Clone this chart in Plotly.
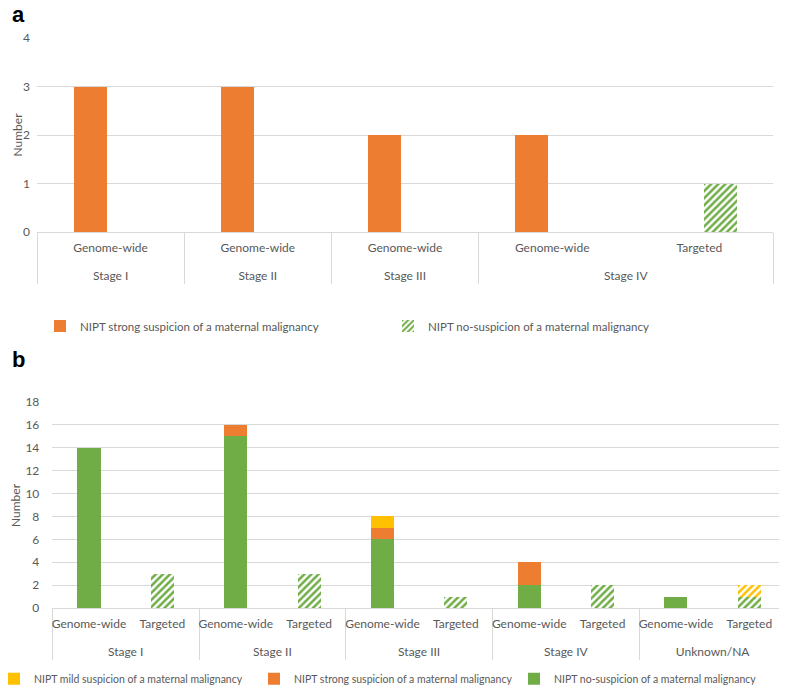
import plotly.graph_objects as go

# ---- panel a data ----
a_stage = ["Stage I", "Stage II", "Stage III", "Stage IV", "Stage IV"]
a_method = ["Genome-wide", "Genome-wide", "Genome-wide", "Genome-wide", "Targeted"]
a_strong = [3, 3, 2, 2, None]
a_nosusp = [None, None, None, None, 1]

# ---- panel b data ----
b_stage = ["Stage I", "Stage I", "Stage II", "Stage II", "Stage III", "Stage III",
           "Stage IV", "Stage IV", "Unknown/NA", "Unknown/NA"]
b_method = ["Genome-wide", "Targeted"] * 5
b_nosusp = [14, 3, 15, 3, 6, 1, 2, 2, 1, 1]
b_strong = [None, None, 1, None, 1, None, 2, None, None, None]
b_mild = [None, None, None, None, 1, None, None, None, None, 1]

ORANGE = "#ed7d31"
GREEN = "#70ad47"
YELLOW = "#ffc000"
GRID = "#d9d9d9"
TXT = "#595959"
FONT = "Lato"

# page has an 8px body margin, so the figure is a bit smaller than the window
OFF = 8
W, H = 787 - OFF, 692 - OFF

def px_x(p):
    return (p - OFF) / W

def px_y(p):
    return 1 - (p - OFF) / H

# outer (stage) labels sit one line lower, like the Excel original
a_x = [["<br>" + s for s in a_stage], a_method]
b_x = [["<br>" + s for s in b_stage], b_method]

# hatched for targeted bars
b_pat = ["" if m == "Genome-wide" else "/" for m in b_method]

def hatch(col, shape):
    return dict(shape=shape, fgcolor=col, bgcolor="white", fgopacity=1,
                size=5, solidity=0.5, fillmode="replace")

fig = go.Figure()

fig.add_trace(go.Bar(
    x=a_x, y=a_strong, name="NIPT strong suspicion of a maternal malignancy",
    marker=dict(color=ORANGE, line=dict(width=0)), width=0.225, offset=-0.252,
    xaxis="x", yaxis="y", legend="legend", hoverinfo="y"))
fig.add_trace(go.Bar(
    x=a_x, y=a_nosusp, name="NIPT no-suspicion of a maternal malignancy",
    marker=dict(color=GREEN, line=dict(width=0), pattern=hatch(GREEN, "/")),
    width=0.225, offset=0.031,
    xaxis="x", yaxis="y", legend="legend", hoverinfo="y"))

for vals, col, name in [(b_nosusp, GREEN, "NIPT no-suspicion of a maternal malignancy"),
                        (b_strong, ORANGE, "NIPT strong suspicion of a maternal malignancy"),
                        (b_mild, YELLOW, "NIPT mild suspicion of a maternal malignancy")]:
    fig.add_trace(go.Bar(
        x=b_x, y=vals, name=name,
        marker=dict(color=col, line=dict(width=0), pattern=hatch(col, b_pat)),
        width=0.314, xaxis="x2", yaxis="y2", legend="legend2", hoverinfo="y"))

xcommon = dict(type="multicategory", showgrid=False, showline=True, linecolor=GRID, linewidth=1,
               showdividers=True, dividercolor=GRID, dividerwidth=1, automargin=False, tickangle=0,
               tickfont=dict(family=FONT, size=12, color=TXT), ticks="", ticklabelstandoff=5)
ycommon = dict(showgrid=True, gridcolor=GRID, gridwidth=1, zeroline=False, showline=False,
               automargin=False, tickfont=dict(family=FONT, size=12, color=TXT), ticks="")

fig.update_layout(
    width=W, height=H, margin=dict(l=0, r=0, t=0, b=0, autoexpand=False),
    paper_bgcolor="white", plot_bgcolor="white",
    barmode="stack",
    font=dict(family=FONT, color=TXT),
    xaxis=dict(domain=[px_x(37), px_x(773)], anchor="y", range=[-0.5, 4.5], **xcommon),
    yaxis=dict(domain=[px_y(232), px_y(38)], anchor="x", range=[0, 4], dtick=1,
               ticklabelstandoff=6, **ycommon),
    xaxis2=dict(domain=[px_x(52.3), px_x(786)], anchor="y2", range=[-0.5, 9.5], **xcommon),
    yaxis2=dict(domain=[px_y(608), px_y(402)], anchor="x2", range=[0, 18], dtick=2,
                ticklabelstandoff=12, **ycommon),
    legend=dict(orientation="h", x=px_x(40), xanchor="left", y=px_y(326), yanchor="middle",
                font=dict(family=FONT, size=11.5, color=TXT), entrywidth=303, entrywidthmode="pixels",
                traceorder="normal", bgcolor="rgba(0,0,0,0)"),
    legend2=dict(orientation="h", x=px_x(-6), xanchor="left", y=-0.002, yanchor="bottom",
                 font=dict(family=FONT, size=10.5, color=TXT), entrywidth=215, entrywidthmode="pixels",
                 traceorder="reversed", bgcolor="rgba(0,0,0,0)"),
    showlegend=True,
    annotations=[
        dict(text="<b>a</b>", x=px_x(10), y=px_y(15), xref="paper", yref="paper",
             xanchor="left", yanchor="middle", showarrow=False,
             font=dict(family="Liberation Sans", size=22, color="black")),
        dict(text="<b>b</b>", x=px_x(10), y=px_y(359), xref="paper", yref="paper",
             xanchor="left", yanchor="middle", showarrow=False,
             font=dict(family="Liberation Sans", size=22, color="black")),
        dict(text="Number", x=px_x(8), y=px_y(135), xref="paper", yref="paper",
             textangle=-90, xanchor="left", yanchor="middle", showarrow=False,
             font=dict(family=FONT, size=12, color=TXT)),
        dict(text="Number", x=px_x(15), y=px_y(505), xref="paper", yref="paper",
             textangle=-90, xanchor="center", yanchor="middle", showarrow=False,
             font=dict(family=FONT, size=12, color=TXT)),
    ],
)

fig.write_html("out.html")
